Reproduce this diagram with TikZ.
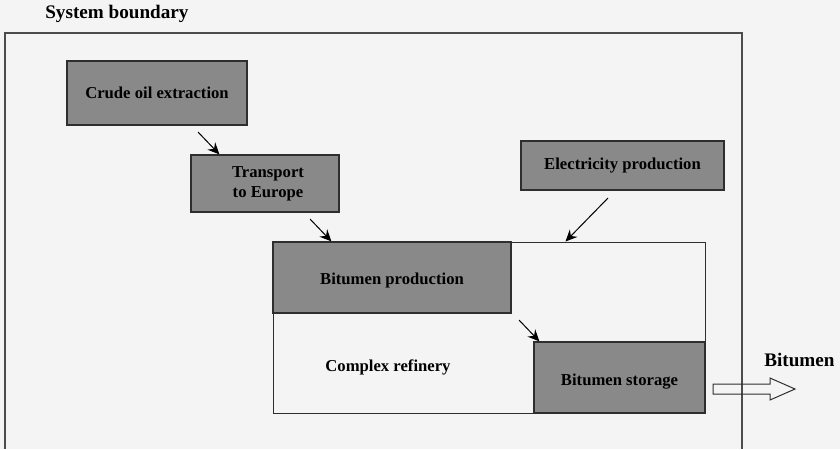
\documentclass[tikz,border=0pt]{standalone}
\usepackage{fontspec}
\setmainfont{Liberation Serif}
\usetikzlibrary{arrows.meta,fit,calc}
\definecolor{bgcol}{HTML}{F4F4F4}
\definecolor{boxfill}{HTML}{898989}
\definecolor{edgecol}{HTML}{2E2E2E}
\tikzset{
  procbox/.style={draw=edgecol, line width=0.75pt, fill=boxfill, inner sep=0pt,
    align=center, font=\fontsize{10}{12}\selectfont\bfseries},
  areabox/.style={draw=edgecol, line width=0.6pt, inner sep=0pt},
  flow/.style={-{Stealth[length=7pt,width=6.4pt,inset=2.4pt]}, line width=0.6pt, black},
  biglabel/.style={font=\fontsize{11.5}{13}\selectfont\bfseries, inner sep=0pt},
  reflabel/.style={font=\fontsize{10}{12}\selectfont\bfseries, inner sep=0pt},
}
\begin{document}
\begin{tikzpicture}[x=0.6pt,y=-0.6pt]
  % canvas
  \fill[bgcol] (0,0) rectangle (840,449);
  \useasboundingbox (0,0) rectangle (840,449);

  % system boundary (open towards the bottom edge)
  \node[biglabel, anchor=west] (sblabel) at (45,14) {System boundary};
  \draw[color=black!70, line width=0.75pt] (5,449) -- (5,33) -- (742,33) -- (742,449);

  % upstream processes
  \node[procbox, fit={(67,61)(247,125)}] (crude) {};
  \node[reflabel] at (crude.center) {Crude oil extraction};
  \node[procbox, fit={(191,155)(339,212)}] (transport) {};
  \node[reflabel, align=center] at ($(transport.center)+(3,0)$) {Transport\\to Europe};
  \node[procbox, fit={(521,141)(724,190)}] (elec) {};
  \node[reflabel] at (elec.center) {Electricity production};

  % refinery and its units
  \node[areabox, fit={(273,242)(705,413)}] (refinery) {};
  \node[reflabel] (reflab) at (388,367) {Complex refinery};
  \node[procbox, fit={(273,242)(511,313)}] (prod) {};
  \node[reflabel] at ($(prod.center)+(0,3)$) {Bitumen production};
  \node[procbox, fit={(534,342)(705,413)}] (storage) {};
  \node[reflabel] at ($(storage.center)+(0,4)$) {Bitumen storage};

  % flows
  \coordinate (f1) at (198,132);
  \coordinate (f2) at (310,219);
  \coordinate (f3) at (608,198);
  \coordinate (f4) at (519,320);
  \draw[flow] (f1) -- ($(transport.north west)+(29,0)$);
  \draw[flow] (f2) -- ($(prod.north west)+(59,0)$);
  \draw[flow] (f3) -- ($(refinery.north east)+(-140,0)$);
  \draw[flow] (f4) -- ($(storage.north west)+(6,0)$);

  % product output
  \coordinate (out) at (713,389);
  \draw[edgecol, line width=0.6pt, line join=miter]
    ($(out)+(0,-5)$) -- ++(57,0) -- ++(0,-6) -- ++(25,11) -- ++(-25,11) -- ++(0,-6) -- ++(-57,0) -- cycle;
  \node[biglabel, anchor=west] (outlabel) at (764,360) {Bitumen};
\end{tikzpicture}
\end{document}
